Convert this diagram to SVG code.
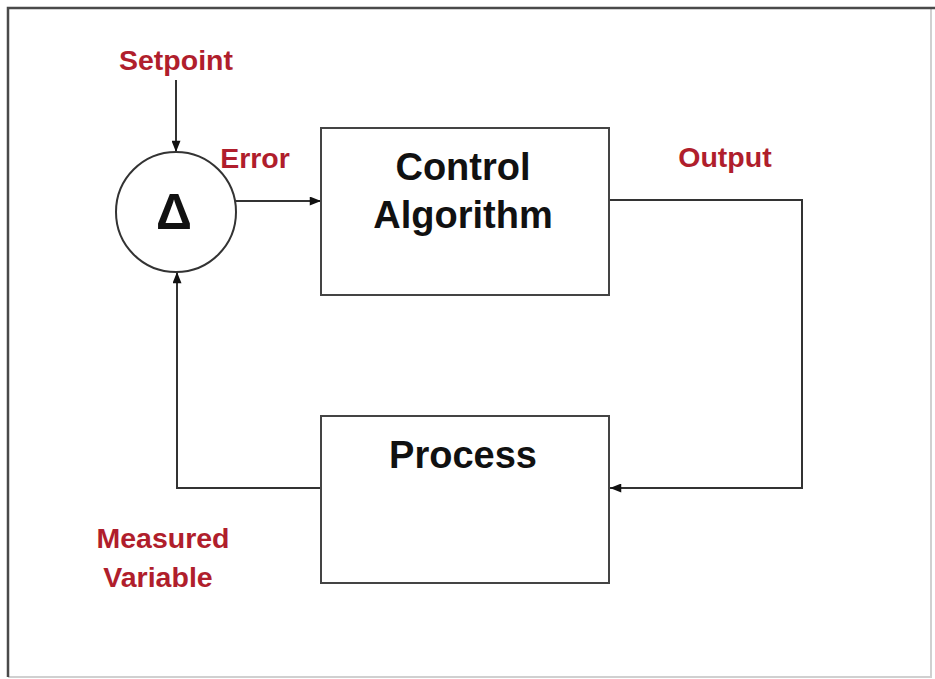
<svg xmlns="http://www.w3.org/2000/svg" width="935" height="679" viewBox="0 0 935 679">
  <style>
    .frame-dark { stroke: #4a4a4a; stroke-width: 2.5; fill: none; }
    .frame-light { stroke: #d0d0d0; stroke-width: 2; fill: none; }
    .box { fill: #ffffff; stroke: #444; stroke-width: 2; }
    .wire { fill: none; stroke: #333; stroke-width: 2; }
    .title { font-family: "Liberation Sans", Arial, sans-serif; font-weight: bold; font-size: 38px; fill: #111; text-anchor: middle; }
    .label { font-family: "Liberation Sans", Arial, sans-serif; font-weight: bold; font-size: 28.5px; fill: #b01e2c; text-anchor: middle; }
  </style>
  <defs>
    <marker id="arrow" viewBox="0 0 10 8" refX="10" refY="4" markerWidth="12" markerHeight="9" markerUnits="userSpaceOnUse" orient="auto">
      <path d="M0,0 L10,4 L0,8 Z" fill="#111"/>
    </marker>
  </defs>

  <rect width="935" height="679" fill="#ffffff"/>

  <!-- panel frame: dark top/left, light bottom/right -->
  <polyline class="frame-light" points="931,8 931,677 8,677"/>
  <polyline class="frame-dark" points="8,677 8,8 935,8"/>

  <!-- connectors -->
  <g id="connectors">
    <line class="wire" x1="176" y1="80" x2="176" y2="152" marker-end="url(#arrow)"/>
    <line class="wire" x1="236" y1="201" x2="321" y2="201" marker-end="url(#arrow)"/>
    <polyline class="wire" points="609,200 802,200 802,488 610,488" marker-end="url(#arrow)"/>
    <polyline class="wire" points="321,488 177,488 177,272" marker-end="url(#arrow)"/>
  </g>

  <!-- summing junction -->
  <g id="junction">
    <circle cx="176" cy="212" r="60" fill="#ffffff" stroke="#333" stroke-width="2"/>
    <text x="174" y="229" style="font-family: 'Liberation Sans', Arial, sans-serif; font-weight: bold; font-size: 50px; fill: #111; text-anchor: middle;">Δ</text>
  </g>

  <!-- controller block -->
  <g id="control-algorithm">
    <rect class="box" x="321" y="128" width="288" height="167"/>
    <text class="title" x="463" y="180">Control</text>
    <text class="title" x="463" y="228">Algorithm</text>
  </g>

  <!-- plant block -->
  <g id="process">
    <rect class="box" x="321" y="416" width="288" height="167"/>
    <text class="title" x="463" y="468">Process</text>
  </g>

  <!-- signal labels -->
  <g id="labels">
    <text class="label" x="176" y="70">Setpoint</text>
    <text class="label" x="255" y="168">Error</text>
    <text class="label" x="725" y="167">Output</text>
    <text class="label" x="163" y="548">Measured</text>
    <text class="label" x="158" y="587">Variable</text>
  </g>
</svg>
